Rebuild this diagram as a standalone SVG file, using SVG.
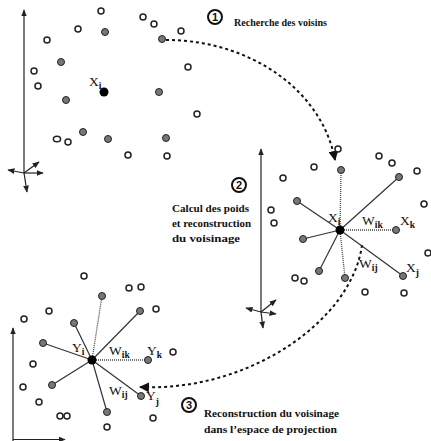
<svg xmlns="http://www.w3.org/2000/svg" width="431" height="441" viewBox="0 0 431 441">
<style>
.h{fill:#fff;stroke:#222;stroke-width:1.5}
.g{fill:#777;stroke:#222;stroke-width:1}
.b{fill:#000}
.s{stroke:#333;stroke-width:1.2;fill:none}
.d{stroke:#444;stroke-width:1.3;stroke-dasharray:1 1;fill:none}
.ax{stroke:#222;stroke-width:1.2;fill:none}
.arc{stroke:#111;stroke-width:2;stroke-dasharray:3 3;fill:none}
.lbl{font-family:"Liberation Serif",serif;font-size:13.5px;fill:#111}
.sub{font-size:9.5px;font-weight:bold}
.txt{font-family:"Liberation Serif",serif;font-weight:bold;fill:#111}
.num{fill:#fff;stroke:#111;stroke-width:2}
.numt{font-family:"Liberation Sans",sans-serif;font-weight:bold;font-size:11px;fill:#111;text-anchor:middle}
</style>
<defs>
<marker id="ah" viewBox="0 0 10 10" refX="9" refY="5" markerWidth="5" markerHeight="5" orient="auto" markerUnits="strokeWidth">
<path d="M0,0 L10,5 L0,10 z" fill="#111"/>
</marker>
<marker id="sa" viewBox="0 0 10 10" refX="9" refY="5" markerWidth="6" markerHeight="6" orient="auto" markerUnits="strokeWidth">
<path d="M0,1 L10,5 L0,9 z" fill="#222"/>
</marker>
</defs>
<rect width="431" height="441" fill="#fff"/>

<g id="connectors">
<path class="arc" d="M166,40 C250,40 322,90 335,160" marker-end="url(#ah)"/>
<path class="arc" d="M362,245 C352,320 250,392 140,387" marker-end="url(#ah)"/>
</g>

<g id="cluster1">
<g class="ax">
<line x1="24" y1="173" x2="24" y2="10" marker-end="url(#sa)"/>
<line x1="24" y1="173" x2="27" y2="192" marker-end="url(#sa)"/>
<line x1="24" y1="173" x2="8" y2="170" marker-end="url(#sa)"/>
<line x1="24" y1="173" x2="43" y2="173" marker-end="url(#sa)"/>
<line x1="24" y1="173" x2="39" y2="162" marker-end="url(#sa)"/>
</g>
<g class="h">
<circle cx="101" cy="11" r="3"/><circle cx="143" cy="17" r="3"/><circle cx="154" cy="24" r="3"/>
<circle cx="78" cy="29" r="3"/><circle cx="181" cy="31" r="3"/><circle cx="47" cy="40" r="3"/>
<circle cx="34" cy="71" r="3"/><circle cx="188" cy="67" r="3"/><circle cx="38" cy="86" r="3"/>
<circle cx="197" cy="114" r="3"/><ellipse cx="57" cy="139" rx="3.6" ry="2.8"/><circle cx="68" cy="142" r="3"/>
<circle cx="128" cy="155" r="3"/><circle cx="167" cy="156" r="3"/>
</g>
<g class="g">
<circle cx="105" cy="32" r="3.5"/><circle cx="162" cy="39" r="3.5"/><circle cx="61" cy="62" r="3.5"/>
<circle cx="159" cy="92" r="3.5"/><circle cx="66" cy="100" r="3.5"/><circle cx="83" cy="132" r="3.5"/>
<circle cx="108" cy="139" r="3.5"/><circle cx="166" cy="138" r="3.5"/>
</g>
<circle class="b" cx="104" cy="92" r="4.5"/>
<text class="lbl" x="89" y="86">X<tspan class="sub" dy="3">i</tspan></text>
</g>

<g id="cluster2">
<g class="ax">
<line x1="261" y1="312" x2="261" y2="149" marker-end="url(#sa)"/>
<line x1="261" y1="312" x2="263" y2="328" marker-end="url(#sa)"/>
<line x1="261" y1="312" x2="246" y2="308" marker-end="url(#sa)"/>
<line x1="261" y1="312" x2="276" y2="314" marker-end="url(#sa)"/>
<line x1="261" y1="312" x2="276" y2="300" marker-end="url(#sa)"/>
</g>
<line class="s" x1="340" y1="230" x2="399" y2="177"/>
<line class="s" x1="340" y1="230" x2="297" y2="201"/>
<line class="s" x1="340" y1="230" x2="303" y2="239"/>
<line class="s" x1="340" y1="230" x2="319" y2="271"/>
<line class="s" x1="340" y1="230" x2="403" y2="276"/>
<line class="d" x1="340" y1="230" x2="341" y2="170"/>
<line class="d" x1="340" y1="230" x2="396" y2="230"/>
<line class="d" x1="340" y1="230" x2="345" y2="278"/>
<g class="h">
<circle cx="338" cy="149" r="3"/><circle cx="379" cy="156" r="3"/><circle cx="392" cy="163" r="3"/>
<circle cx="314" cy="167" r="3"/><circle cx="417" cy="171" r="3"/><circle cx="283" cy="178" r="3"/>
<circle cx="424" cy="204" r="3"/><circle cx="271" cy="210" r="3"/><circle cx="274" cy="223" r="3"/>
<circle cx="428" cy="253" r="3"/><circle cx="295" cy="278" r="3"/><circle cx="304" cy="281" r="3"/>
<circle cx="365" cy="292" r="3"/><circle cx="404" cy="293" r="3"/>
</g>
<g class="g">
<circle cx="341" cy="170" r="3.5"/><circle cx="399" cy="177" r="3.5"/><circle cx="297" cy="201" r="3.5"/>
<circle cx="396" cy="230" r="3.5"/><circle cx="303" cy="239" r="3.5"/><circle cx="319" cy="271" r="3.5"/>
<circle cx="345" cy="278" r="3.5"/><circle cx="403" cy="276" r="3.5"/>
</g>
<circle class="b" cx="340" cy="230" r="4.5"/>
<text class="lbl" x="328" y="222">X<tspan class="sub" dy="3">i</tspan></text>
<text class="lbl" x="362" y="225">W<tspan class="sub" dy="3">ik</tspan></text>
<text class="lbl" x="400" y="225">X<tspan class="sub" dy="3">k</tspan></text>
<text class="lbl" x="359" y="268">W<tspan class="sub" dy="3">ij</tspan></text>
<text class="lbl" x="406" y="272">X<tspan class="sub" dy="4">j</tspan></text>
</g>

<g id="cluster3">
<g class="ax">
<line x1="13" y1="441" x2="13" y2="328" marker-end="url(#sa)"/>
<line x1="13" y1="439.5" x2="65" y2="439.5" marker-end="url(#sa)"/>
</g>
<line class="s" x1="92" y1="360" x2="140" y2="311"/>
<line class="s" x1="92" y1="360" x2="74" y2="323"/>
<line class="s" x1="92" y1="360" x2="43" y2="343"/>
<line class="s" x1="92" y1="360" x2="52" y2="385"/>
<line class="s" x1="92" y1="360" x2="141" y2="396"/>
<line class="s" x1="92" y1="360" x2="107" y2="412"/>
<line class="d" x1="92" y1="360" x2="102" y2="296"/>
<line class="d" x1="92" y1="360" x2="148" y2="360"/>
<g class="h">
<circle cx="84" cy="276" r="3"/><circle cx="129" cy="288" r="3"/><circle cx="141" cy="287" r="3"/>
<circle cx="156" cy="309" r="3"/><circle cx="49" cy="311" r="3"/><circle cx="24" cy="319" r="3"/>
<circle cx="173" cy="352" r="3"/><circle cx="33" cy="364" r="3"/><circle cx="23" cy="387" r="3"/>
<circle cx="39" cy="402" r="3"/><circle cx="60" cy="416" r="3"/><circle cx="67" cy="416" r="3"/>
<circle cx="107" cy="427" r="3"/><circle cx="153" cy="418" r="3"/>
</g>
<g class="g">
<circle cx="102" cy="296" r="3.5"/><circle cx="140" cy="311" r="3.5"/><circle cx="74" cy="323" r="3.5"/>
<circle cx="43" cy="343" r="3.5"/><circle cx="148" cy="360" r="3.5"/><circle cx="52" cy="385" r="3.5"/>
<circle cx="141" cy="396" r="3.5"/><circle cx="107" cy="412" r="3.5"/>
</g>
<circle class="b" cx="92" cy="360" r="4.5"/>
<text class="lbl" x="72" y="352">Y<tspan class="sub" dy="3">i</tspan></text>
<text class="lbl" x="109" y="355">W<tspan class="sub" dy="3">ik</tspan></text>
<text class="lbl" x="147" y="355">Y<tspan class="sub" dy="3">k</tspan></text>
<text class="lbl" x="109" y="395">W<tspan class="sub" dy="3">ij</tspan></text>
<text class="lbl" x="146" y="400">Y<tspan class="sub" dy="5">j</tspan></text>
</g>

<g id="step1">
<circle class="num" cx="215" cy="17" r="7"/>
<text class="numt" x="215" y="21">1</text>
<text class="txt" x="234" y="26" font-size="9.5" textLength="93" lengthAdjust="spacingAndGlyphs">Recherche des voisins</text>
</g>
<g id="step2">
<circle class="num" cx="239" cy="185" r="7"/>
<text class="numt" x="239" y="189">2</text>
<text class="txt" font-size="10.5"><tspan x="172" y="212" textLength="77" lengthAdjust="spacingAndGlyphs">Calcul des poids</tspan><tspan x="172" y="227" textLength="79" lengthAdjust="spacingAndGlyphs">et reconstruction</tspan><tspan x="172" y="242" textLength="68" lengthAdjust="spacingAndGlyphs">du voisinage</tspan></text>
</g>
<g id="step3">
<circle class="num" cx="189" cy="405" r="7"/>
<text class="numt" x="189" y="409">3</text>
<text class="txt" font-size="10"><tspan x="204" y="417" textLength="135" lengthAdjust="spacingAndGlyphs">Reconstruction du voisinage</tspan><tspan x="204" y="433" textLength="133" lengthAdjust="spacingAndGlyphs">dans l’espace de projection</tspan></text>
</g>
</svg>
